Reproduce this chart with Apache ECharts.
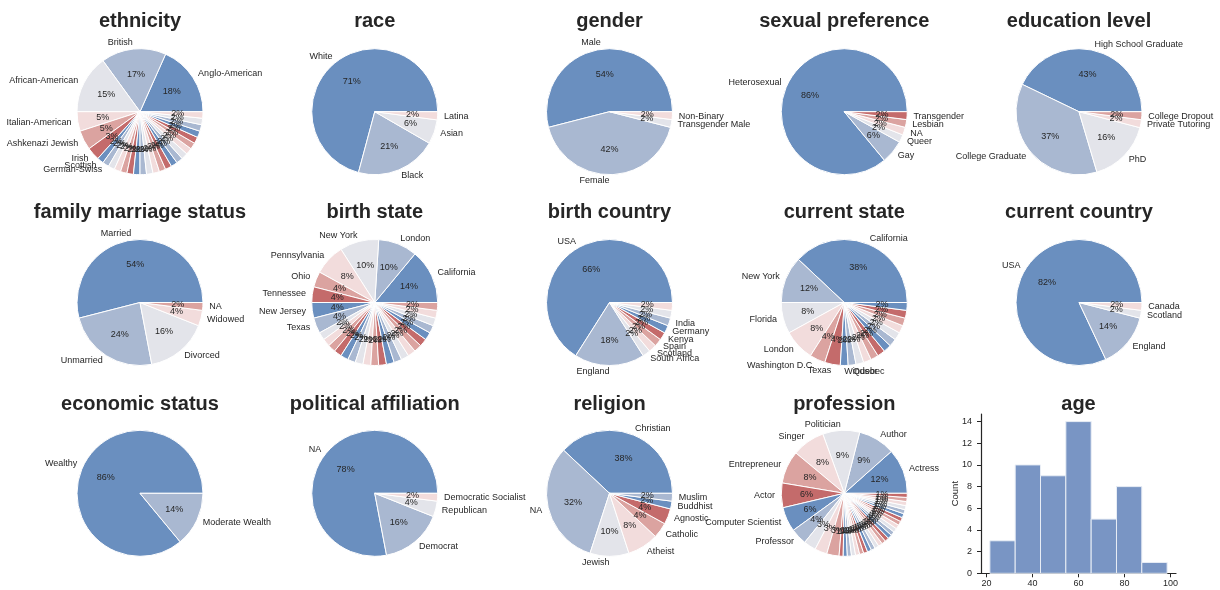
<!DOCTYPE html>
<html>
<head>
<meta charset="utf-8">
<script src="https://cdn.jsdelivr.net/npm/echarts@6/dist/echarts.min.js"></script>
<style>
  body { margin: 0; background: #fff; }
  #main { width: 1220px; height: 590px; }
</style>
</head>
<body>
<div id="main"></div>
<script>
// 饼图 + 年龄直方图

var ethnicityNames = ["Anglo-American", "British", "African-American", "Italian-American", "Ashkenazi Jewish", "Irish", "Scottish", "German-Swiss"];
var ethnicityCounts = [11, 10, 9, 3, 3, 2, 1, 1, 1, 1, 1, 1, 1, 1, 1, 1, 1, 1, 1, 1, 1, 1, 1, 1, 1, 1, 1, 1];

var raceNames = ["White", "Black", "Asian", "Latina"];
var raceCounts = [34, 10, 3, 1];

var genderNames = ["Male", "Female", "Transgender Male", "Non-Binary"];
var genderCounts = [27, 21, 1, 1];

var sexualNames = ["Heterosexual", "Gay", "Queer", "NA", "Lesbian", "Transgender"];
var sexualCounts = [43, 3, 1, 1, 1, 1];

var educationNames = ["High School Graduate", "College Graduate", "PhD", "Private Tutoring", "College Dropout"];
var educationCounts = [21, 18, 8, 1, 1];

var marriageNames = ["Married", "Unmarried", "Divorced", "Widowed", "NA"];
var marriageCounts = [27, 12, 8, 2, 1];

var birthStateNames = ["California", "London", "New York", "Pennsylvania", "Ohio", "Tennessee", "New Jersey", "Texas"];
var birthStateCounts = [7, 5, 5, 4, 2, 2, 2, 2, 1, 1, 1, 1, 1, 1, 1, 1, 1, 1, 1, 1, 1, 1, 1, 1, 1, 1, 1, 1, 1];

var birthCountryNames = ["USA", "England", "South Africa", "Scotland", "Spain", "Kenya", "Germany", "India"];
var birthCountryCounts = [33, 9, 1, 1, 1, 1, 1, 1, 1, 1];

var currentStateNames = ["California", "New York", "Florida", "London", "Washington D.C.", "Texas", "Windsor", "Quebec"];
var currentStateCounts = [19, 6, 4, 4, 2, 2, 1, 1, 1, 1, 1, 1, 1, 1, 1, 1, 1, 1, 1];

var currentCountryNames = ["USA", "England", "Scotland", "Canada"];
var currentCountryCounts = [41, 7, 1, 1];

var economicNames = ["Wealthy", "Moderate Wealth"];
var economicCounts = [43, 7];

var politicalNames = ["NA", "Democrat", "Republican", "Democratic Socialist"];
var politicalCounts = [39, 8, 2, 1];

var religionNames = ["Christian", "NA", "Jewish", "Atheist", "Catholic", "Agnostic", "Buddhist", "Muslim"];
var religionCounts = [19, 16, 5, 4, 2, 2, 1, 1];

var professionNames = ["Actress", "Author", "Politician", "Singer", "Entrepreneur", "Actor", "Computer Scientist", "Professor"];
var professionCounts = [11, 9, 9, 8, 8, 6, 6, 4, 3, 3, 3, 1, 1, 1, 1, 1, 1, 1, 1, 1, 1, 1, 1, 1, 1, 1, 1, 1, 1, 1, 1, 1, 1, 1, 1, 1];

var ageBinEdges = [21.5, 32.5, 43.5, 54.5, 65.5, 76.5, 87.5, 98.5];
var ageCounts = [3, 10, 9, 14, 5, 8, 1];
var ageTicks = [20, 40, 60, 80, 100];
var countTicks = [0, 2, 4, 6, 8, 10, 12, 14];

var pies = [
  ["ethnicity", ethnicityNames, ethnicityCounts],
  ["race", raceNames, raceCounts],
  ["gender", genderNames, genderCounts],
  ["sexual preference", sexualNames, sexualCounts],
  ["education level", educationNames, educationCounts],
  ["family marriage status", marriageNames, marriageCounts],
  ["birth state", birthStateNames, birthStateCounts],
  ["birth country", birthCountryNames, birthCountryCounts],
  ["current state", currentStateNames, currentStateCounts],
  ["current country", currentCountryNames, currentCountryCounts],
  ["economic status", economicNames, economicCounts],
  ["political affiliation", politicalNames, politicalCounts],
  ["religion", religionNames, religionCounts],
  ["profession", professionNames, professionCounts]
];

var palette = ["#6a8fbf", "#a9b8d1", "#e3e4ea", "#f2dcdc", "#dba3a0", "#c46b6b"];
var textColor = "#262626";
var fontFamily = "'Liberation Sans', Arial, sans-serif";

var colX0 = 140, colStep = 234.75;
var rowY0 = 111.7, rowStep = 190.8;
var titleTop0 = 11, titleStep = 191.5;
var R = 63;

var chart = echarts.init(document.getElementById("main"));

var titles = [];
var series = [];

function addTitle(text, x, row) {
  titles.push({
    text: text,
    left: x,
    top: titleTop0 + row * titleStep,
    textAlign: "center",
    padding: 0,
    textStyle: { fontSize: 20, fontWeight: "bold", color: textColor, fontFamily: fontFamily }
  });
}

function addPie(title, names, counts, idx) {
  var col = idx % 5, row = Math.floor(idx / 5);
  var cx = colX0 + col * colStep;
  var cy = rowY0 + row * rowStep;
  var total = counts.reduce(function (a, b) { return a + b; }, 0);
  var data = counts.map(function (v, i) {
    return { value: v, name: names[i] || "", itemStyle: { color: palette[i % palette.length] } };
  });

  addTitle(title, cx, row);

  // 扇形 + 外侧名称
  series.push({
    type: "pie",
    center: [cx, cy],
    radius: [0, R],
    startAngle: 0,
    clockwise: false,
    avoidLabelOverlap: false,
    animation: false,
    silent: true,
    itemStyle: { borderColor: "#fff", borderWidth: 1 },
    label: {
      position: "outside",
      distanceToLabelLine: 0,
      fontSize: 9,
      color: textColor,
      fontFamily: fontFamily,
      formatter: function (p) { return p.dataIndex < 8 ? p.name : ""; }
    },
    labelLine: { show: false, length: R * 0.1, length2: 0 },
    labelLayout: { hideOverlap: false },
    data: data
  });

  // 百分比
  series.push({
    type: "pie",
    center: [cx, cy],
    radius: [R * 0.2 - 6, R],
    startAngle: 0,
    clockwise: false,
    avoidLabelOverlap: false,
    animation: false,
    silent: true,
    itemStyle: { color: "transparent", borderWidth: 0 },
    label: {
      position: "inside",
      fontSize: 9,
      color: textColor,
      fontFamily: fontFamily,
      formatter: function (p) { return Math.round(p.value / total * 100) + "%"; }
    },
    labelLine: { show: false },
    labelLayout: { hideOverlap: false },
    data: counts.map(function (v, i) { return { value: v, name: names[i] || "" }; })
  });
}

pies.forEach(function (p, i) { addPie(p[0], p[1], p[2], i); });

// 直方图
var gridLeft = 981, gridTop = 414, gridW = 195, gridH = 159.3;
addTitle("age", gridLeft + gridW / 2, 2);

var pad = (ageBinEdges[ageBinEdges.length - 1] - ageBinEdges[0]) * 0.05;
var histData = ageCounts.map(function (c, i) { return [ageBinEdges[i], ageBinEdges[i + 1], c]; });

series.push({
  type: "custom",
  xAxisIndex: 0,
  yAxisIndex: 0,
  animation: false,
  silent: true,
  encode: { x: [0, 1], y: 2 },
  renderItem: function (params, api) {
    var p0 = api.coord([api.value(0), 0]);
    var p1 = api.coord([api.value(1), api.value(2)]);
    return {
      type: "rect",
      shape: { x: p0[0], y: p1[1], width: p1[0] - p0[0], height: p0[1] - p1[1] },
      style: { fill: "#7995c4", stroke: "#e8edf5", lineWidth: 1 }
    };
  },
  data: histData
});

var option = {
  backgroundColor: "#fff",
  textStyle: { fontFamily: fontFamily },
  title: titles,
  grid: { left: gridLeft, top: gridTop, width: gridW, height: gridH },
  xAxis: {
    type: "value",
    min: ageBinEdges[0] - pad,
    max: ageBinEdges[ageBinEdges.length - 1] + pad,
    splitLine: { show: false },
    axisLine: { lineStyle: { color: textColor, width: 1.2 } },
    axisTick: { length: 4, lineStyle: { color: textColor }, customValues: ageTicks },
    axisLabel: { fontSize: 9, color: textColor, margin: 6, customValues: ageTicks }
  },
  yAxis: {
    type: "value",
    min: 0,
    max: 14.7,
    name: "Count",
    nameLocation: "middle",
    nameGap: 21,
    nameMoveOverlap: false,
    nameRotate: 90,
    nameTextStyle: { fontSize: 9.5, color: textColor },
    splitLine: { show: false },
    axisLine: { show: true, lineStyle: { color: textColor, width: 1.2 } },
    axisTick: { show: true, length: 4, lineStyle: { color: textColor }, customValues: countTicks },
    axisLabel: { fontSize: 9, color: textColor, margin: 9, customValues: countTicks }
  },
  series: series
};

chart.setOption(option);
</script>
</body>
</html>
